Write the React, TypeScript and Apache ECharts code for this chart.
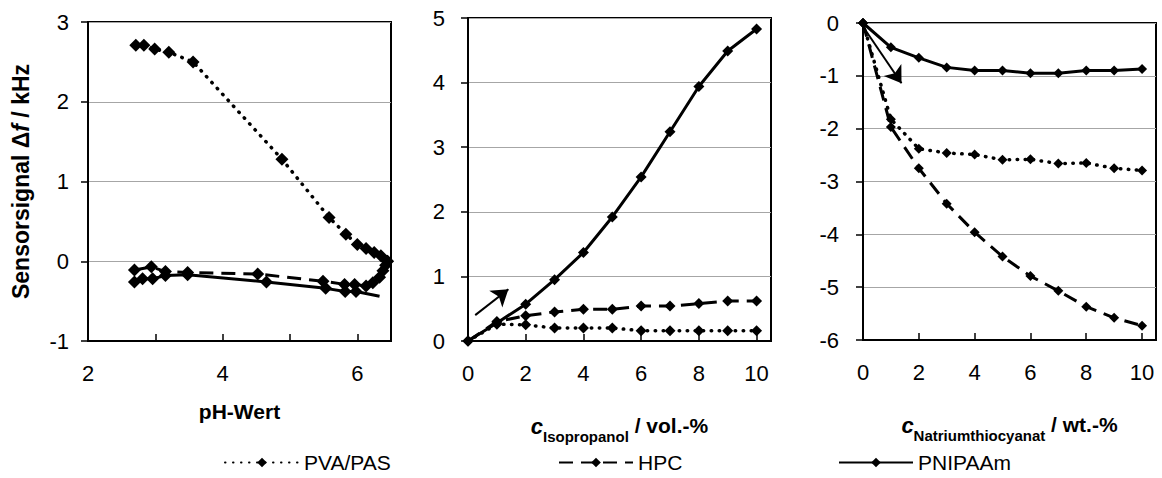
import React, { useEffect, useRef } from "react";
import * as echarts from "echarts";

const FONT = "'Liberation Sans', Arial, sans-serif";

// ---- Panel 1: pH ----
const phTicks = [2, 4, 6];
const phPvaPas: [number, number][] = [
  [2.71, 2.71], [2.83, 2.71], [2.99, 2.66], [3.2, 2.62], [3.56, 2.5], [4.88, 1.28],
  [5.58, 0.55], [5.83, 0.34], [6.0, 0.21], [6.13, 0.16], [6.25, 0.11], [6.35, 0.07], [6.44, 0.0],
];
const phHpc: [number, number][] = [
  [2.69, -0.11], [2.94, -0.07], [3.15, -0.13], [3.48, -0.14], [4.52, -0.16], [5.49, -0.25],
  [5.81, -0.29], [5.96, -0.29], [6.13, -0.31], [6.23, -0.27], [6.33, -0.2], [6.38, -0.12],
  [6.42, -0.05], [6.45, 0.0],
];
const phPnipaam: [number, number][] = [
  [2.69, -0.26], [2.81, -0.22], [2.96, -0.22], [3.15, -0.18], [3.48, -0.17], [4.65, -0.26],
  [5.53, -0.34], [5.82, -0.38], [5.98, -0.38], [6.33, -0.44],
];

// ---- Panel 2: Isopropanol ----
const concTicks = [0, 2, 4, 6, 8, 10];
const isoX = [0, 1, 2, 3, 4, 5, 6, 7, 8, 9, 10];
const isoPvaPas = [0, 0.26, 0.25, 0.2, 0.2, 0.2, 0.16, 0.16, 0.16, 0.16, 0.16];
const isoHpc = [0, 0.3, 0.39, 0.45, 0.49, 0.49, 0.54, 0.54, 0.58, 0.62, 0.62];
const isoPnipaam = [0, 0.28, 0.57, 0.95, 1.37, 1.92, 2.54, 3.24, 3.94, 4.49, 4.83];
const isoArrow: [number, number][] = [[0.25, 0.4], [1.4, 0.8]];

// ---- Panel 3: Natriumthiocyanat ----
const natX = [0, 1, 2, 3, 4, 5, 6, 7, 8, 9, 10];
const natPvaPas = [0, -1.82, -2.38, -2.46, -2.49, -2.59, -2.58, -2.66, -2.65, -2.75, -2.79];
const natHpc = [0, -1.97, -2.75, -3.42, -3.96, -4.42, -4.79, -5.07, -5.37, -5.58, -5.73];
const natPnipaam = [0, -0.46, -0.66, -0.84, -0.9, -0.9, -0.95, -0.95, -0.9, -0.9, -0.87];
const natArrow: [number, number][] = [[0.12, -0.16], [1.38, -1.14]];

const names = ["PVA/PAS", "HPC", "PNIPAAm"];

const zip = (xs: number[], ys: number[]) => xs.map((x, i) => [x, ys[i]]);

const lineStyles: any[] = [
  { color: "#000", width: 3.5, type: [0.5, 7.5], cap: "round" },
  { color: "#000", width: 3, type: [14, 8] },
  { color: "#000", width: 3, type: "solid" },
];

export default function App() {
  const ref = useRef<HTMLDivElement>(null);
  useEffect(() => {
    if (!ref.current) return;
    const chart = echarts.init(ref.current, undefined, { renderer: "svg" });

    const axisLabel = (ticks: number[] | null, margin: number) => ({
      fontFamily: FONT,
      fontSize: 22,
      color: "#000",
      margin,
      formatter: (v: number) => (ticks === null || ticks.includes(v) ? String(v) : ""),
    });
    const yAxisBase = (min: number, max: number, margin: number) => ({
      type: "value",
      min,
      max,
      interval: 1,
      axisLine: { show: true, onZero: false, lineStyle: { color: "#000", width: 2 } },
      axisTick: { show: true, inside: false, length: 7, lineStyle: { color: "#000", width: 1.5 } },
      axisLabel: axisLabel(null, margin),
      splitLine: { show: true, lineStyle: { color: "#a6a6a6", width: 1 } },
    });
    const xAxisBase = (min: number, max: number, interval: number, ticks: number[]) => ({
      type: "value",
      min,
      max,
      interval,
      axisLine: { show: true, onZero: false, lineStyle: { color: "#000", width: 2 } },
      axisTick: { show: true, inside: true, length: 7, lineStyle: { color: "#000", width: 1.5 } },
      axisLabel: axisLabel(ticks, 21),
      splitLine: { show: false },
      nameLocation: "middle",
    });

    const subRich = {
      ci: { fontFamily: FONT, fontSize: 22, fontWeight: "bold", fontStyle: "italic", color: "#000", lineHeight: 26, verticalAlign: "top" },
      sub: { fontFamily: FONT, fontSize: 15, fontWeight: "bold", color: "#000", lineHeight: 15, padding: [14, 0, 0, 0], verticalAlign: "top" },
      b: { fontFamily: FONT, fontSize: 21, fontWeight: "bold", color: "#000", lineHeight: 26, verticalAlign: "top" },
    };

    const mkSeries = (i: number, data: any[], axis: number, size: number) => ({
      type: "line",
      name: names[i],
      xAxisIndex: axis,
      yAxisIndex: axis,
      data,
      symbol: "diamond",
      symbolSize: size,
      showSymbol: true,
      itemStyle: { color: "#000" },
      lineStyle: lineStyles[i],
      z: 3 + i,
    });

    const arrow = (axis: number, coords: [number, number][]) => ({
      type: "lines",
      coordinateSystem: "cartesian2d",
      xAxisIndex: axis,
      yAxisIndex: axis,
      symbol: ["none", "arrow"],
      symbolSize: 16,
      lineStyle: { color: "#000", width: 2, opacity: 1 },
      data: [{ coords }],
      z: 10,
    });

    const legend = (name: string, left: number) => ({
      data: [name],
      left,
      top: 452,
      padding: 0,
      itemWidth: 74,
      itemHeight: 12,
      itemGap: 0,
      textStyle: { fontFamily: FONT, fontSize: 21, color: "#000" },
      selectedMode: false,
    });

    const grid = (left: number, top: number, width: number, height: number) => ({
      left, top, width, height, show: true, borderColor: "#000", borderWidth: 2, backgroundColor: "transparent",
    });

    chart.setOption({
      animation: false,
      backgroundColor: "#fff",
      grid: [grid(88, 22, 303, 319), grid(468, 18, 303, 323), grid(863, 23, 293, 317)],
      xAxis: [
        { ...xAxisBase(2, 6.5, 1, phTicks), gridIndex: 0, name: "pH-Wert", nameGap: 60,
          nameTextStyle: { fontFamily: FONT, fontSize: 21, fontWeight: "bold", color: "#000" } },
        { ...xAxisBase(0, 10.5, 2, concTicks), gridIndex: 1, name: "{ci|c}{sub|Isopropanol}{b| / vol.-%}", nameGap: 74,
          nameTextStyle: { rich: subRich } },
        { ...xAxisBase(0, 10.5, 2, concTicks), gridIndex: 2, name: "{ci|c}{sub|Natriumthiocyanat}{b| / wt.-%}", nameGap: 74,
          nameTextStyle: { rich: subRich } },
      ],
      yAxis: [
        { ...yAxisBase(-1, 3, 19), gridIndex: 0, name: "{b|Sensorsignal Δ}{i|f}{b| / kHz}", nameLocation: "middle", nameGap: 56,
          nameTextStyle: { rich: {
            b: { fontFamily: FONT, fontSize: 23, fontWeight: "bold", color: "#000" },
            i: { fontFamily: FONT, fontSize: 23, fontWeight: "bold", fontStyle: "italic", color: "#000" },
          } } },
        { ...yAxisBase(0, 5, 23), gridIndex: 1 },
        { ...yAxisBase(-6, 0, 24), gridIndex: 2 },
      ],
      legend: [legend(names[0], 224), legend(names[1], 558), legend(names[2], 838)],
      series: [
        mkSeries(0, phPvaPas, 0, 13),
        mkSeries(1, phHpc, 0, 13),
        mkSeries(2, phPnipaam.map((p, i) => (i === phPnipaam.length - 1 ? { value: p, symbol: "none" } : p)), 0, 13),
        mkSeries(0, zip(isoX, isoPvaPas), 1, 11),
        mkSeries(1, zip(isoX, isoHpc), 1, 11),
        mkSeries(2, zip(isoX, isoPnipaam), 1, 11),
        mkSeries(0, zip(natX, natPvaPas), 2, 10),
        mkSeries(1, zip(natX, natHpc), 2, 10),
        mkSeries(2, zip(natX, natPnipaam), 2, 10),
        arrow(1, isoArrow),
        arrow(2, natArrow),
      ],
    });
    return () => chart.dispose();
  }, []);
  return (
    <div
      ref={ref}
      style={{ position: "fixed", left: 0, top: 0, width: 1162, height: 478, background: "#fff" }}
    />
  );
}
